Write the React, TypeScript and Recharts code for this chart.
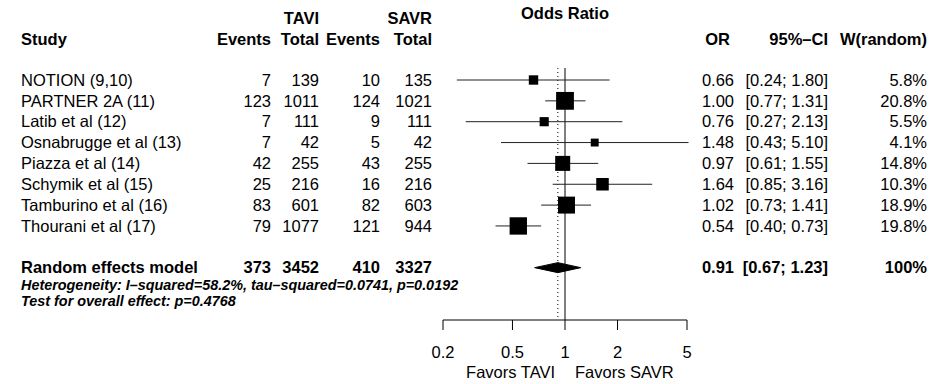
import React from "react";
import {
  ComposedChart,
  XAxis,
  YAxis,
  Scatter,
  ErrorBar,
  Area,
  ReferenceLine,
} from "recharts";

// study data
const studies = [
  "NOTION (9,10)",
  "PARTNER 2A (11)",
  "Latib et al (12)",
  "Osnabrugge et al (13)",
  "Piazza et al (14)",
  "Schymik et al (15)",
  "Tamburino et al (16)",
  "Thourani et al (17)",
];
const taviEvents = [7, 123, 7, 7, 42, 25, 83, 79];
const taviTotal = [139, 1011, 111, 42, 255, 216, 601, 1077];
const savrEvents = [10, 124, 9, 5, 43, 16, 82, 121];
const savrTotal = [135, 1021, 111, 42, 255, 216, 603, 944];
const orValues = [0.66, 1.0, 0.76, 1.48, 0.97, 1.64, 1.02, 0.54];
const ciLower = [0.24, 0.77, 0.27, 0.43, 0.61, 0.85, 0.73, 0.4];
const ciUpper = [1.8, 1.31, 2.13, 5.1, 1.55, 3.16, 1.41, 0.73];
const weights = [5.8, 20.8, 5.5, 4.1, 14.8, 10.3, 18.9, 19.8];

const summaryLabel = "Random effects model";
const summaryCounts = [373, 3452, 410, 3327];
const summaryOR = 0.91;
const summaryCI = [0.67, 1.23];
const summaryWeight = "100%";
const hetText = "Heterogeneity: I–squared=58.2%, tau–squared=0.0741, p=0.0192";
const testText = "Test for overall effect:  p=0.4768";

const xTicks = [0.2, 0.5, 1, 2, 5];

// layout
const WIDTH = 935;
const HEIGHT = 384;
const ROW_PX = 20.85;
const FIRST_ROW_Y = 80;
const AXIS_Y = 320;
const Y_TOP = -FIRST_ROW_Y / ROW_PX;
const Y_BOTTOM = (AXIS_Y - FIRST_ROW_Y) / ROW_PX;
const REF_TOP = -12 / ROW_PX;
const SUMMARY_ROW = 9;
const DIAMOND_HALF = 0.24;
const BOX_K = 3.9;
const MARGIN = { top: 0, right: WIDTH - 687, bottom: 0, left: 443 };

const FONT = '"Liberation Sans", Arial, Helvetica, sans-serif';
const FS = 16.5;
const FS_BOLD = 16.5;
const FS_HET = 14.4;

const STUDY_X = 21;
const COL = {
  taviEvents: 271,
  taviTotal: 319,
  savrEvents: 380,
  savrTotal: 432,
  orHead: 730,
  or: 734,
  ci: 828,
  w: 927,
};

const studyPoints = studies.map((_, i) => ({
  x: orValues[i],
  y: i,
  err: [orValues[i] - ciLower[i], ciUpper[i] - orValues[i]],
  w: weights[i],
}));

const fmtCI = (lo: number, hi: number) => `[${lo.toFixed(2)}; ${hi.toFixed(2)}]`;

const tableRows = [
  { x: 1, y: -3.2, kind: "smlab" },
  { x: 1, y: -2.97, kind: "group" },
  { x: 1, y: -1.97, kind: "head" },
  ...studies.map((name, i) => ({
    x: 1,
    y: i,
    kind: "row",
    bold: false,
    cells: [
      name,
      String(taviEvents[i]),
      String(taviTotal[i]),
      String(savrEvents[i]),
      String(savrTotal[i]),
      orValues[i].toFixed(2),
      fmtCI(ciLower[i], ciUpper[i]),
      `${weights[i].toFixed(1)}%`,
    ],
  })),
  {
    x: 1,
    y: SUMMARY_ROW - 0.02,
    kind: "row",
    bold: true,
    cells: [
      summaryLabel,
      ...summaryCounts.map(String),
      summaryOR.toFixed(2),
      fmtCI(summaryCI[0], summaryCI[1]),
      summaryWeight,
    ],
  },
  { x: 1, y: 9.84, kind: "het" },
  { x: 1, y: 10.6, kind: "test" },
];

const diamondData = [
  { x: summaryCI[0], band: [SUMMARY_ROW, SUMMARY_ROW] },
  { x: summaryOR, band: [SUMMARY_ROW - DIAMOND_HALF, SUMMARY_ROW + DIAMOND_HALF] },
  { x: summaryCI[1], band: [SUMMARY_ROW, SUMMARY_ROW] },
];

function T({
  x,
  y,
  anchor = "end",
  bold = false,
  italic = false,
  size,
  children,
}: any) {
  return (
    <text
      x={x}
      y={y}
      dy="0.35em"
      textAnchor={anchor}
      fontFamily={FONT}
      fontSize={size ?? (bold ? FS_BOLD : FS)}
      fontWeight={bold ? "bold" : "normal"}
      fontStyle={italic ? "italic" : "normal"}
      fill="#000"
    >
      {children}
    </text>
  );
}

function TableRow(props: any) {
  const { cx, cy, payload } = props;
  if (payload.kind === "smlab") {
    return (
      <T x={cx} y={cy} anchor="middle" bold>
        Odds Ratio
      </T>
    );
  }
  if (payload.kind === "group") {
    return (
      <g>
        <T x={COL.taviTotal} y={cy} bold>TAVI</T>
        <T x={COL.savrTotal} y={cy} bold>SAVR</T>
      </g>
    );
  }
  if (payload.kind === "head") {
    return (
      <g>
        <T x={STUDY_X} y={cy} anchor="start" bold>Study</T>
        <T x={COL.taviEvents} y={cy} bold>Events</T>
        <T x={COL.taviTotal} y={cy} bold>Total</T>
        <T x={COL.savrEvents} y={cy} bold>Events</T>
        <T x={COL.savrTotal} y={cy} bold>Total</T>
        <T x={COL.orHead} y={cy} bold>OR</T>
        <T x={COL.ci} y={cy} bold>95%–CI</T>
        <T x={COL.w} y={cy} bold>W(random)</T>
      </g>
    );
  }
  if (payload.kind === "het" || payload.kind === "test") {
    return (
      <T x={STUDY_X} y={cy} anchor="start" bold italic size={FS_HET}>
        {payload.kind === "het" ? hetText : testText}
      </T>
    );
  }
  const c = payload.cells;
  const b = payload.bold;
  return (
    <g>
      <T x={STUDY_X} y={cy} anchor="start" bold={b}>{c[0]}</T>
      <T x={COL.taviEvents} y={cy} bold={b}>{c[1]}</T>
      <T x={COL.taviTotal} y={cy} bold={b}>{c[2]}</T>
      <T x={COL.savrEvents} y={cy} bold={b}>{c[3]}</T>
      <T x={COL.savrTotal} y={cy} bold={b}>{c[4]}</T>
      <T x={COL.or} y={cy} bold={b}>{c[5]}</T>
      <T x={COL.ci} y={cy} bold={b}>{c[6]}</T>
      <T x={COL.w} y={cy} bold={b}>{c[7]}</T>
    </g>
  );
}

function StudyBox(props: any) {
  const { cx, cy, payload } = props;
  const s = BOX_K * Math.sqrt(payload.w);
  return <rect x={cx - s / 2} y={cy - s / 2} width={s} height={s} fill="#000" />;
}

function FavorsLabel(props: any) {
  const vb = props.viewBox || {};
  const mid = vb.x + vb.width / 2;
  const y = 372.5;
  return (
    <g>
      <T x={mid - 10} y={y} anchor="end">Favors TAVI</T>
      <T x={mid + 10} y={y} anchor="start">Favors SAVR</T>
    </g>
  );
}

export default function App() {
  return (
    <div
      style={{
        position: "absolute",
        left: 0,
        top: 0,
        width: WIDTH,
        height: HEIGHT,
        background: "#fff",
      }}
    >
      {/* plot: CI lines, boxes, diamond, axis */}
      <ComposedChart width={WIDTH} height={HEIGHT} data={diamondData} margin={MARGIN}>
        <XAxis
          type="number"
          dataKey="x"
          scale="log"
          domain={[0.2, 5]}
          allowDataOverflow
          ticks={xTicks}
          interval={0}
          height={HEIGHT - AXIS_Y}
          tickSize={10}
          tickMargin={16}
          stroke="#000"
          tick={{ fontSize: FS, fill: "#000", fontFamily: FONT }}
          tickFormatter={(v) => String(v)}
          label={{ content: (p: any) => <FavorsLabel {...p} /> }}
        />
        <YAxis
          type="number"
          dataKey="y"
          domain={[Y_TOP, Y_BOTTOM]}
          reversed
          allowDataOverflow
          hide
        />
        <ReferenceLine
          segment={[
            { x: 1, y: REF_TOP },
            { x: 1, y: Y_BOTTOM },
          ]}
          stroke="#000"
          strokeWidth={1}
        />
        <ReferenceLine
          segment={[
            { x: summaryOR, y: REF_TOP },
            { x: summaryOR, y: Y_BOTTOM },
          ]}
          stroke="#000"
          strokeWidth={1}
          strokeDasharray="1 3"
        />
        <Area
          dataKey="band"
          type="linear"
          stroke="#000"
          strokeWidth={1}
          fill="#000"
          fillOpacity={1}
          dot={false}
          activeDot={false}
          isAnimationActive={false}
        />
        <Scatter data={studyPoints} shape={StudyBox} isAnimationActive={false}>
          <ErrorBar
            dataKey="err"
            direction="x"
            width={0}
            stroke="#222"
            strokeWidth={1}
            isAnimationActive={false}
          />
        </Scatter>
      </ComposedChart>

      {/* table text, same row scale, drawn without clipping */}
      <div style={{ position: "absolute", left: 0, top: 0, pointerEvents: "none" }}>
        <ComposedChart
          width={WIDTH}
          height={HEIGHT}
          margin={{ ...MARGIN, bottom: HEIGHT - AXIS_Y }}
        >
          <XAxis type="number" dataKey="x" scale="log" domain={[0.2, 5]} hide />
          <YAxis type="number" dataKey="y" domain={[Y_TOP, Y_BOTTOM]} reversed hide />
          <Scatter data={tableRows} shape={TableRow} isAnimationActive={false} />
        </ComposedChart>
      </div>
    </div>
  );
}
